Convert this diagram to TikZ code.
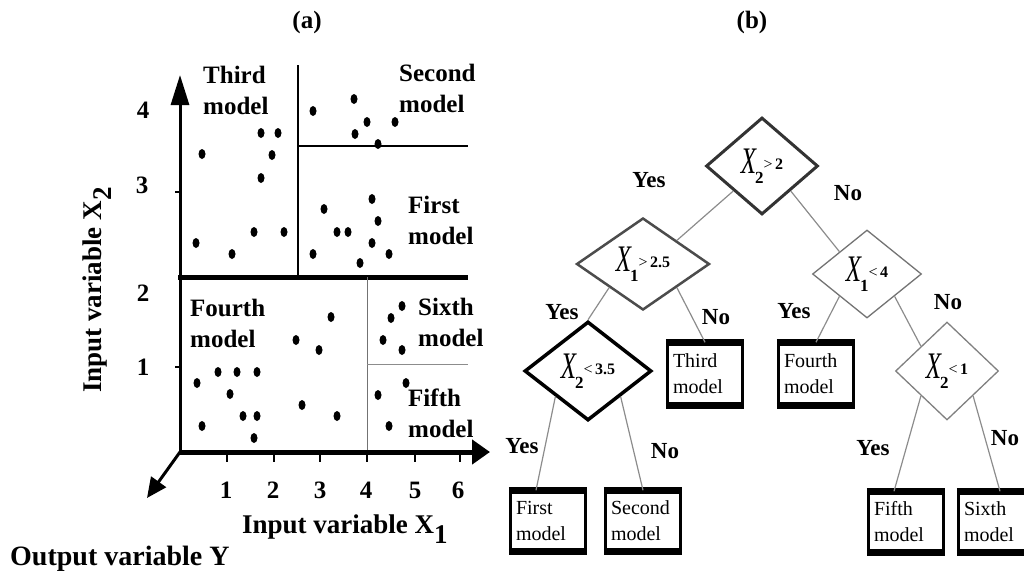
\documentclass[tikz,border=0pt]{standalone}
\usepackage{fontspec}
\usepackage{graphicx}
\setmainfont{Liberation Serif}
\usetikzlibrary{arrows.meta,shapes.geometric}
\newcommand\dlab[3]{\scalebox{1}[1.5]{\fontsize{25}{25}\selectfont\itshape X}\kern-1pt\raisebox{-10pt}{\fontsize{17}{17}\selectfont\bfseries #1}\raisebox{4pt}{\fontsize{16}{16}\selectfont #2\,\bfseries #3}}
\begin{document}
\begin{tikzpicture}[x=1pt,y=-1pt,
  title/.style={font=\fontsize{25}{25}\selectfont\bfseries, inner sep=0pt},
  lbl/.style={font=\fontsize{25}{31}\selectfont\bfseries, align=left, anchor=north west, inner sep=0pt},
  ticklbl/.style={font=\fontsize{25}{25}\selectfont\bfseries, inner sep=0pt},
  axlbl/.style={font=\fontsize{27}{27}\selectfont\bfseries, inner sep=0pt, anchor=base west},
  yn/.style={font=\fontsize{23}{23}\selectfont\bfseries, inner sep=0pt},
  dia/.style={diamond, draw, inner sep=0pt, fill=white},
  leaf/.style={rectangle, draw=black, line width=3.5pt, minimum width=75pt, minimum height=58pt, inner sep=0pt, font=\fontsize{20}{26}\selectfont, align=left, text width=64pt},
  conn/.style={draw=black!45, line width=1.2pt},
  tickmark/.style={line width=1.5pt},
]
\useasboundingbox (0,0) rectangle (1024,573);

% ---------------- panel (a) ----------------
\node[title] (ta) at (307,22) {(a)};
\coordinate (O) at (180,452);
\coordinate (Ytop) at (180,75);
\coordinate (Xend) at (490,452);
\coordinate (Zend) at (147,498);

% region lines
\draw[line width=5pt] (178,277) -- (468,277);
\draw[line width=2pt] (298,65) -- (298,277);
\draw[line width=2.5pt] (298,146) -- (468,146);
\draw[line width=1pt, black!55] (367,277) -- (367,452);
\draw[line width=1pt, black!45] (367,364) -- (468,364);

% axes
\draw[line width=3pt, -{Triangle[length=30pt,width=18pt]}] (O) -- (Ytop);
\draw[line width=5pt, -{Triangle[length=18pt,width=24pt]}] (O) -- (Xend);
\draw[line width=3pt, -{Triangle[length=20pt,width=18pt]}] (O) -- (Zend);

% ticks
\foreach \x in {227,274,320,367,415,460} \draw[tickmark] (\x,452) -- (\x,462);
\foreach \y in {192,367} \draw[tickmark] (175,\y) -- (180,\y);

% tick labels
\node[ticklbl] (y4) at (143,110) {4};
\node[ticklbl] (y3) at (142,185) {3};
\node[ticklbl] (y2) at (143,293) {2};
\node[ticklbl] (y1) at (143,367) {1};
\node[ticklbl] (x1) at (226,490) {1};
\node[ticklbl] (x2) at (273,490) {2};
\node[ticklbl] (x3) at (320,490) {3};
\node[ticklbl] (x4) at (366,490) {4};
\node[ticklbl] (x5) at (415,490) {5};
\node[ticklbl] (x6) at (458,490) {6};

% axis labels
\node[axlbl] (xl) at (242,533) {Input variable X\raisebox{-10pt}{1}};
\node[axlbl, font=\fontsize{28}{28}\selectfont\bfseries] (zl) at (10,565) {Output variable Y};
\node[axlbl, rotate=90] (yl) at (101,393) {Input variable X\raisebox{-10pt}{2}};

% region labels
\node[lbl] (r3) at (203,66) {Third\\model};
\node[lbl] (r2) at (399,64) {Second\\model};
\node[lbl] (r1) at (408,196) {First\\model};
\node[lbl] (r4) at (190,299) {Fourth\\model};
\node[lbl] (r6) at (418,298) {Sixth\\model};
\node[lbl] (r5) at (408,389) {Fifth\\model};

% data points
\foreach \p in {(202,154),(261,133),(278,133),(272,155),(261,178),(196,243),(232,254),(254,232),(284,232),
  (313,111),(354,99),(367,122),(355,134),(378,144),(395,122),
  (324,209),(372,199),(378,221),(337,232),(348,232),(372,243),(313,254),(389,254),(360,263),
  (197,383),(218,372),(237,372),(257,372),(230,394),(202,426),(243,416),(257,416),(254,438),
  (296,340),(331,317),(319,350),(302,405),(337,416),
  (402,306),(391,318),(383,340),(402,350),
  (406,383),(378,395),(389,426)}
  \fill \p ellipse [x radius=3.5pt, y radius=5pt];

% ---------------- panel (b) ----------------
\node[title] (tb) at (752,22) {(b)};

\node[dia, minimum width=112pt, minimum height=97pt, line width=3pt, draw=black!80] (root) at (762,166) {\dlab{2}{>}{2}};
\node[dia, minimum width=133pt, minimum height=92pt, line width=2.5pt, draw=black!70] (c1) at (643,264) {\dlab{1}{>}{2.5}};
\node[dia, minimum width=109pt, minimum height=88pt, line width=1.3pt, draw=black!55] (c2) at (867,274) {\dlab{1}{<}{4}};
\node[dia, minimum width=127pt, minimum height=99pt, line width=3.5pt, draw=black] (c3) at (588,371) {\dlab{2}{<}{3.5}};
\node[dia, minimum width=103pt, minimum height=98pt, line width=1.3pt, draw=black!50] (c4) at (947,371) {\dlab{2}{<}{1}};

\node[leaf, minimum height=60pt] (third) at (705,374) {Third\\model};
\node[leaf, minimum height=60pt] (fourth) at (816,374) {Fourth\\model};
\node[leaf] (first) at (548,521) {First\\model};
\node[leaf] (second) at (643,521) {Second\\model};
\node[leaf] (fifth) at (906,522) {Fifth\\model};
\node[leaf] (sixth) at (996,522) {Sixth\\model};
\foreach \n in {third,fourth,first,second,fifth,sixth}
  \draw[line width=6pt] (\n.north west) -- (\n.north east) (\n.south west) -- (\n.south east);

% connectors
\draw[conn] (root.south west) -- (c1.north east);
\draw[conn] (root.south east) -- (c2.north west);
\draw[conn] (c1.south west) -- (c3.north);
\draw[conn] (c1.south east) -- (third.north);
\draw[conn] (c2.south west) -- (fourth.north);
\draw[conn] (c2.south east) -- (c4.north west);
\draw[conn] (c3.south west) -- ([xshift=-12pt]first.north);
\draw[conn] (c3.south east) -- (second.north);
\draw[conn] (c4.south west) -- ([xshift=-12pt]fifth.north);
\draw[conn] (c4.south east) -- ([xshift=4pt]sixth.north);

% Yes / No labels
\node[yn] (y0) at (649,180) {Yes};
\node[yn] (n0) at (848,193) {No};
\node[yn] (y1l) at (562,312) {Yes};
\node[yn] (n1) at (716,317) {No};
\node[yn] (y2l) at (794,311) {Yes};
\node[yn] (n2) at (948,302) {No};
\node[yn] (y3l) at (522,446) {Yes};
\node[yn] (n3) at (665,451) {No};
\node[yn] (y4l) at (873,448) {Yes};
\node[yn] (n4) at (1005,438) {No};
\end{tikzpicture}
\end{document}
